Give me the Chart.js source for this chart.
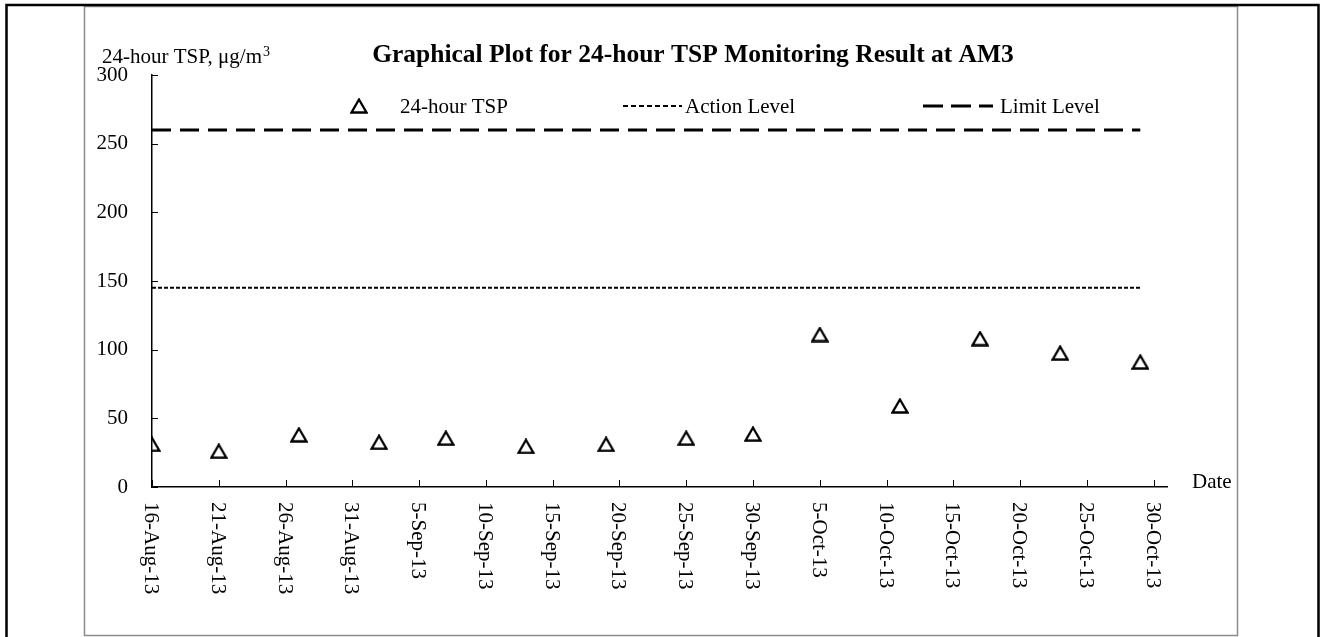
<!DOCTYPE html>
<html>
<head>
<meta charset="utf-8">
<title>24-hour TSP at AM3</title>
<script src="https://cdn.jsdelivr.net/npm/chart.js@4"></script>
<style>
  body { margin: 0; background: #fff; }
  #myChart { display: block; }
</style>
</head>
<body>
<canvas id="myChart" width="1325" height="637"></canvas>
<script>
// datos
const sampleDates = ['16-Aug-13', '21-Aug-13', '27-Aug-13', '2-Sep-13', '7-Sep-13', '13-Sep-13', '19-Sep-13',
  '25-Sep-13', '30-Sep-13', '5-Oct-13', '11-Oct-13', '17-Oct-13', '23-Oct-13', '29-Oct-13'];
const tspValues = [31, 26, 38, 32.5, 35.5, 29.5, 31, 35.5, 38.5, 111, 59, 108, 97.5, 91];
const actionLevel = 145;
const limitLevel = 260;
const tickLabels = ['16-Aug-13', '21-Aug-13', '26-Aug-13', '31-Aug-13', '5-Sep-13', '10-Sep-13', '15-Sep-13', '20-Sep-13',
  '25-Sep-13', '30-Sep-13', '5-Oct-13', '10-Oct-13', '15-Oct-13', '20-Oct-13', '25-Oct-13', '30-Oct-13'];
const axisStart = '16-Aug-13';
const axisEnd = '31-Oct-13';
const yTicks = [0, 50, 100, 150, 200, 250, 300];

const serif = "'Liberation Serif', 'Times New Roman', serif";
const months = { Aug: 7, Sep: 8, Oct: 9 };

// dias desde el inicio del eje
function toDay(label) {
  const [d, m, y] = label.split('-');
  const t = Date.UTC(2000 + parseInt(y), months[m], parseInt(d));
  return (t - Date.UTC(2013, 7, 16)) / 86400000;
}

// triangulo hueco, centrado por su caja
function triangleMarker() {
  const c = document.createElement('canvas');
  c.width = 18;
  c.height = 16;
  const g = c.getContext('2d');
  g.strokeStyle = '#000';
  g.lineWidth = 2.3;
  g.lineJoin = 'miter';
  g.beginPath();
  g.moveTo(9, 1.5);
  g.lineTo(16.5, 14.5);
  g.lineTo(1.5, 14.5);
  g.closePath();
  g.stroke();
  return c;
}
const marker = triangleMarker();

const firstDay = toDay(sampleDates[0]);
const lastDay = toDay(sampleDates[sampleDates.length - 1]);

const decorations = {
  id: 'decorations',
  beforeDraw(chart) {
    const ctx = chart.ctx;
    ctx.save();
    // marcos
    ctx.strokeStyle = '#8c8c8c';
    ctx.lineWidth = 1.5;
    ctx.strokeRect(84.5, 6.5, 1153, 629);
    ctx.strokeStyle = '#000';
    ctx.lineWidth = 2.5;
    ctx.beginPath();
    ctx.moveTo(6.5, 640);
    ctx.lineTo(6.5, 5);
    ctx.lineTo(1318.5, 5);
    ctx.lineTo(1318.5, 640);
    ctx.stroke();
    ctx.restore();
  },
  afterDraw(chart) {
    const ctx = chart.ctx;
    const area = chart.chartArea;
    const xs = chart.scales.x;
    const ys = chart.scales.y;
    ctx.save();

    // marcas hacia adentro
    ctx.strokeStyle = '#000';
    ctx.lineWidth = 1;
    ys.ticks.forEach(t => {
      const py = Math.round(ys.getPixelForValue(t.value)) + 0.5;
      ctx.beginPath();
      ctx.moveTo(area.left, py);
      ctx.lineTo(area.left + 6, py);
      ctx.stroke();
    });
    xs.ticks.forEach(t => {
      const px = Math.round(xs.getPixelForValue(t.value)) + 0.5;
      ctx.beginPath();
      ctx.moveTo(px, area.bottom);
      ctx.lineTo(px, area.bottom - 7);
      ctx.stroke();
    });

    // etiquetas de fecha giradas
    ctx.fillStyle = '#000';
    ctx.font = '21px ' + serif;
    ctx.textAlign = 'left';
    ctx.textBaseline = 'alphabetic';
    xs.ticks.forEach((t, i) => {
      const px = xs.getPixelForValue(t.value);
      ctx.save();
      ctx.translate(px, area.bottom + 15);
      ctx.rotate(Math.PI / 2);
      ctx.fillText(tickLabels[i], 0, 7);
      ctx.restore();
    });
    ctx.fillText('Date', 1192, 488);

    // titulo y eje
    ctx.font = 'bold 25.5px ' + serif;
    ctx.textAlign = 'center';
    ctx.fillText('Graphical Plot for 24-hour TSP Monitoring Result at AM3', 693, 62);
    ctx.textAlign = 'left';
    ctx.font = '21px ' + serif;
    const yTitle = '24-hour TSP, \u03bcg/m';
    ctx.fillText(yTitle, 102, 63);
    const w = ctx.measureText(yTitle).width;
    ctx.font = '14px ' + serif;
    ctx.fillText('3', 102 + w + 1, 56);

    // leyenda
    const ly = 106;
    ctx.drawImage(marker, 350, ly - 8);
    ctx.font = '21px ' + serif;
    ctx.fillText(chart.data.datasets[0].label, 400, ly + 7);
    const legendLine = (ds, x0, x1, dash) => {
      ctx.strokeStyle = ds.borderColor;
      ctx.lineWidth = ds.borderWidth;
      ctx.setLineDash(dash);
      ctx.beginPath();
      ctx.moveTo(x0, ly);
      ctx.lineTo(x1, ly);
      ctx.stroke();
      ctx.setLineDash([]);
    };
    legendLine(chart.data.datasets[1], 623, 682, [5, 3]);
    ctx.fillText(chart.data.datasets[1].label, 685, ly + 7);
    legendLine(chart.data.datasets[2], 923, 993, [20, 8]);
    ctx.fillText(chart.data.datasets[2].label, 1000, ly + 7);
    ctx.restore();
  }
};

const config = {
  type: 'scatter',
  data: {
    datasets: [
      {
        label: '24-hour TSP',
        data: sampleDates.map((d, i) => ({ x: toDay(d), y: tspValues[i] })),
        pointStyle: marker,
        pointRadius: 8,
        showLine: false
      },
      {
        label: 'Action Level',
        data: [{ x: firstDay, y: actionLevel }, { x: lastDay, y: actionLevel }],
        showLine: true,
        borderColor: '#000',
        borderWidth: 2,
        borderDash: [4, 2],
        pointRadius: 0
      },
      {
        label: 'Limit Level',
        data: [{ x: firstDay, y: limitLevel }, { x: lastDay, y: limitLevel }],
        showLine: true,
        borderColor: '#000',
        borderWidth: 3,
        borderDash: [19, 9],
        pointRadius: 0
      }
    ]
  },
  options: {
    responsive: false,
    animation: false,
    layout: { padding: { left: 0, top: 75, right: 158, bottom: 0 } },
    plugins: {
      legend: { display: false },
      title: { display: false },
      tooltip: { enabled: false }
    },
    scales: {
      x: {
        type: 'linear',
        min: toDay(axisStart),
        max: toDay(axisEnd),
        grid: { display: false, drawTicks: false },
        border: { display: true, color: '#000', width: 1.5 },
        ticks: { display: false },
        afterBuildTicks: s => { s.ticks = tickLabels.map(l => ({ value: toDay(l) })); },
        afterFit: s => { s.height = 150; }
      },
      y: {
        min: 0,
        max: 300,
        grid: { display: false, drawTicks: false },
        border: { display: true, color: '#000', width: 1.5 },
        afterBuildTicks: s => { s.ticks = yTicks.map(v => ({ value: v })); },
        ticks: { color: '#000', padding: 24, font: { family: serif, size: 21 } },
        afterFit: s => { s.width = 152; }
      }
    }
  },
  plugins: [decorations]
};

const chart = new Chart(document.getElementById('myChart'), config);
</script>
</body>
</html>
